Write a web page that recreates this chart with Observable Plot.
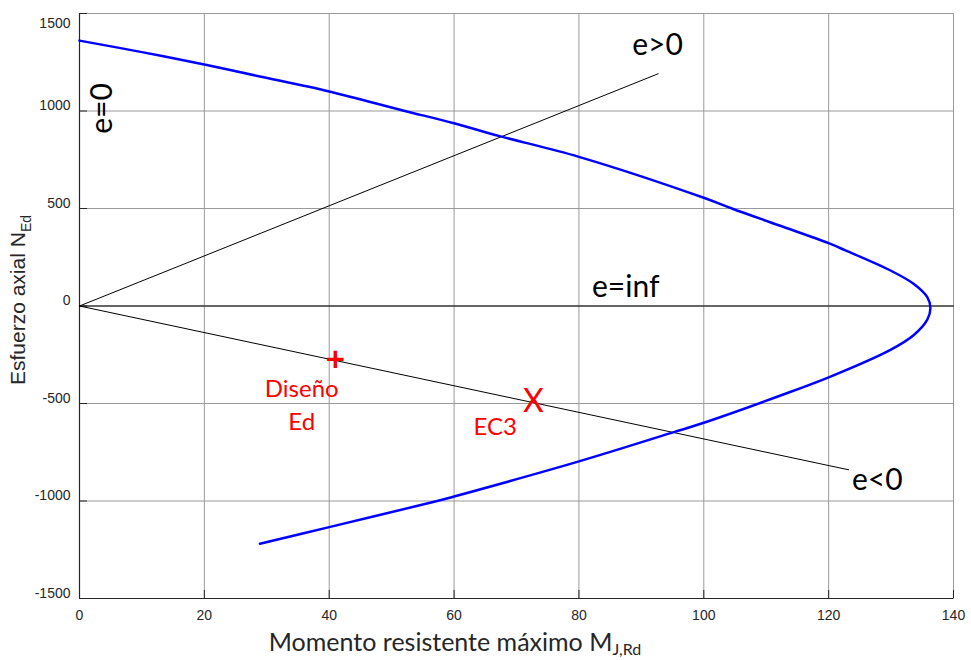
<!DOCTYPE html>
<html><head><meta charset="utf-8">
<script src="https://cdn.jsdelivr.net/npm/d3@7"></script>
<script src="https://cdn.jsdelivr.net/npm/@observablehq/plot@0.6"></script>
<style>body{margin:0;background:#fff}#chart{width:971px;height:660px}</style>
</head><body><div id="chart"></div>
<script>
// ---- data ----
const xTicks = [0, 20, 40, 60, 80, 100, 120, 140];
const yTicks = [-1500, -1000, -500, 0, 500, 1000, 1500];

// interaction curve (M, N)
const curveM = [0, 10, 20, 28.9, 40, 51.8, 60, 67.3, 80, 100, 104.5, 112, 120, 122.7, 129.9, 133.6, 135.8, 136.3, 135.8, 133.6, 129.9, 120.3, 112.3, 99.5, 95.2, 80, 60, 57.3, 40, 28.9];
const curveN = [1361, 1302, 1238, 1177, 1100, 1003, 937, 871, 765, 555, 500, 414, 322, 285, 182, 114, 45, -10, -70, -150, -225, -362, -459, -604, -647, -797, -977, -1000, -1134, -1219];

// eccentricity lines
const ePosM = [0, 92.7], ePosN = [0, 1191];
const eNegM = [0, 123.2], eNegN = [0, -840];
const eInfM = [0, 140], eInfN = [0, 0];

// design points
const pointSymbol = ["+", "X"];
const pointM = [41.0, 72.7];
const pointN = [-280, -493];

// annotation labels
const labelText = ["e>0", "e<0", "e=inf"];
const labelM = [92.6, 127.8, 87.5];
const labelN = [1336, -895, 95];
const zeroText = ["e=0"], zeroM = [3.7], zeroN = [1013];
const noteText = ["Diseño", "Ed", "EC3"];
const noteM = [35.6, 35.6, 66.6];
const noteN = [-426, -595, -620];

// ---- tables ----
const zip = (ms, ns, extra) => ms.map((m, i) => ({M: m, N: ns[i], t: extra ? extra[i] : null}));
const curve = zip(curveM, curveN);
const ePos = zip(ePosM, ePosN), eNeg = zip(eNegM, eNegN), eInf = zip(eInfM, eInfN);
const points = zip(pointM, pointN, pointSymbol);
const labels = zip(labelM, labelN, labelText);
const zeroLab = zip(zeroM, zeroN, zeroText);
const notes = zip(noteM, noteN, noteText);

const grid = "#9a9a9a";
const dark = "#262626";
const annFont = "Lato, 'Open Sans', sans-serif";
const fmt = d => String(d);

const plot = Plot.plot({
  width: 971,
  height: 660,
  marginLeft: 79,
  marginRight: 18,
  marginTop: 13,
  marginBottom: 62,
  style: {fontFamily: "'Liberation Sans', Arial, sans-serif", fontSize: "14px", color: dark, background: "#fff"},
  x: {domain: [0, 140], label: null},
  y: {domain: [-1500, 1500], label: null},
  marks: [
    Plot.gridX(xTicks, {stroke: grid, strokeOpacity: 1, strokeWidth: 1}),
    Plot.gridY(yTicks, {stroke: grid, strokeOpacity: 1, strokeWidth: 1}),
    Plot.frame({stroke: grid, strokeWidth: 1}),
    Plot.ruleX([xTicks[0]], {stroke: dark, strokeWidth: 1.2}),
    Plot.ruleY([yTicks[0]], {stroke: dark, strokeWidth: 1.2}),
    Plot.axisX(xTicks, {tickSize: -8, tickFormat: () => "", stroke: dark, label: null}),
    Plot.axisY(yTicks, {tickSize: -8, tickFormat: () => "", stroke: dark, label: null}),
    Plot.axisX(xTicks, {tickSize: 0, tickPadding: 12, tickFormat: fmt, label: null, fill: dark}),
    Plot.axisY(yTicks.slice(0, -1), {tickSize: 0, tickPadding: 9, dy: -5, tickFormat: fmt, label: null, fill: dark}),
    Plot.axisY(yTicks.slice(-1), {tickSize: 0, tickPadding: 9, dy: 10, tickFormat: fmt, label: null, fill: dark}),
    Plot.line(eInf, {x: "M", y: "N", stroke: "black", strokeWidth: 1}),
    Plot.line(ePos, {x: "M", y: "N", stroke: "black", strokeWidth: 1}),
    Plot.line(eNeg, {x: "M", y: "N", stroke: "black", strokeWidth: 1}),
    Plot.line(curve, {x: "M", y: "N", stroke: "#0000ff", strokeWidth: 2.5, curve: "catmull-rom"}),
    Plot.text(labels, {x: "M", y: "N", text: "t", fontSize: 30, fontFamily: annFont, fill: "black", lineAnchor: "middle"}),
    Plot.text(zeroLab, {x: "M", y: "N", text: "t", rotate: -90, fontSize: 30, fontFamily: annFont, fill: "black", lineAnchor: "middle"}),
    Plot.text(notes, {x: "M", y: "N", text: "t", fontSize: 24, fontFamily: annFont, fill: "#ff0000", lineAnchor: "middle"}),
    Plot.text(points, {x: "M", y: "N", text: "t", fontSize: 34, fontWeight: "bold", fontFamily: annFont, fill: "#ff0000", lineAnchor: "middle",
      filter: d => d.t === "+"}),
    Plot.text(points, {x: "M", y: "N", text: "t", fontSize: 32, fontFamily: annFont, fill: "#ff0000", lineAnchor: "middle",
      filter: d => d.t !== "+"})
  ]
});

const svg = d3.select(plot);
// x-axis title with subscript
const xt = svg.append("text")
  .attr("x", 455).attr("y", 651)
  .attr("text-anchor", "middle")
  .attr("fill", dark)
  .style("font-family", annFont)
  .style("font-size", "25px");
xt.append("tspan").text("Momento resistente máximo M");
xt.append("tspan").attr("dy", 4).style("font-size", "16px").text("J,Rd");

// y-axis title with subscript
const yt = svg.append("text")
  .attr("transform", "translate(25,300) rotate(-90)")
  .attr("text-anchor", "middle")
  .attr("fill", dark)
  .style("font-family", "'Liberation Sans', Arial, sans-serif")
  .style("font-size", "21px");
yt.append("tspan").text("Esfuerzo axial N");
yt.append("tspan").attr("dy", 6).style("font-size", "14px").text("Ed");

document.getElementById("chart").append(plot);
</script>
</body></html>
